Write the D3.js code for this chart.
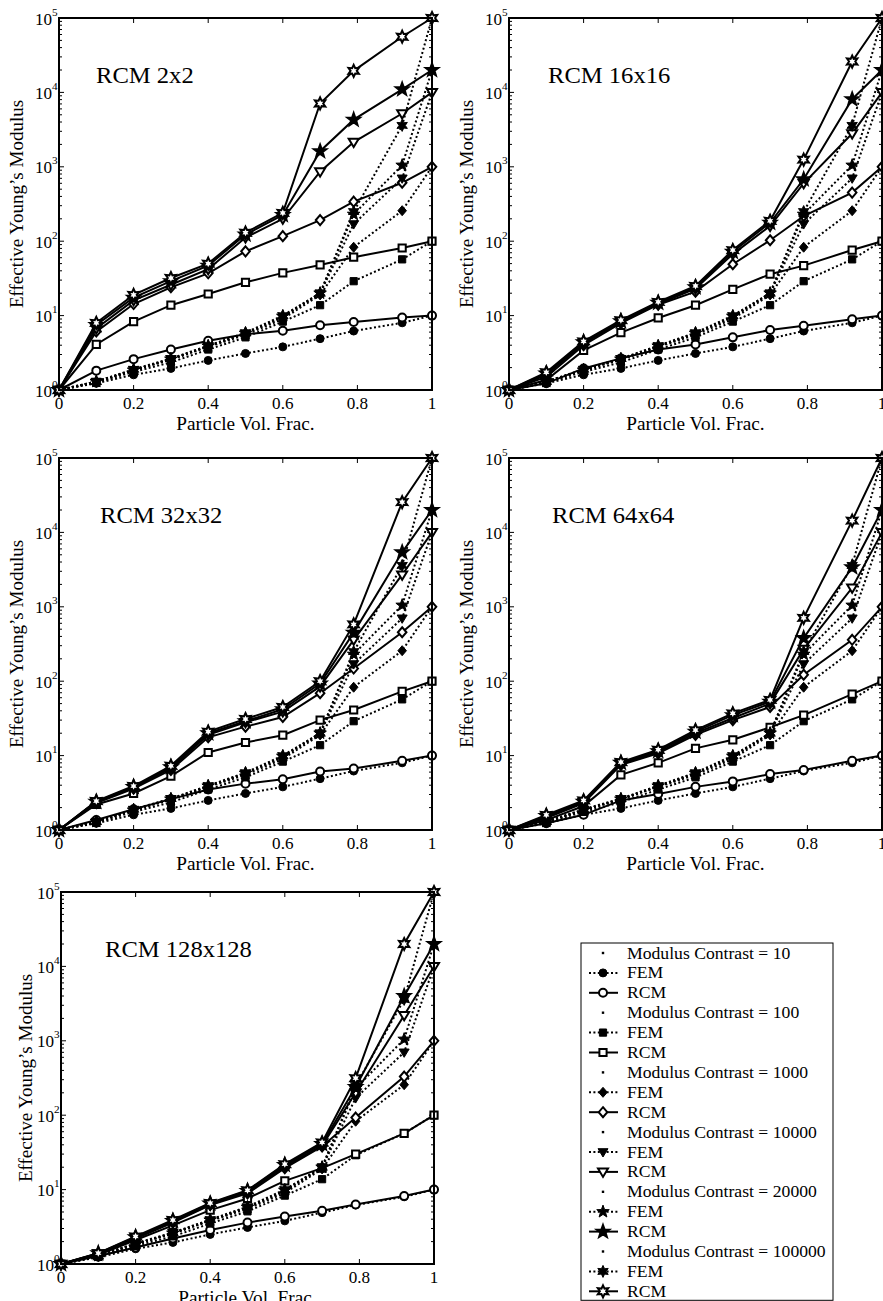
<!DOCTYPE html>
<html>
<head>
<meta charset="utf-8">
<script src="https://cdn.jsdelivr.net/npm/d3@7"></script>
<style>
  html, body { margin: 0; padding: 0; background: #fff; }
  svg { display: block; }
  text { font-family: "Liberation Serif", "Times New Roman", serif; fill: #000; }
</style>
</head>
<body>
<svg id="chart" width="883" height="1301"></svg>
<script>
// Particle volume fractions (x values shared by every curve)
const volFrac = [0, 0.1, 0.2, 0.3, 0.4, 0.5, 0.6, 0.7, 0.79, 0.92, 1];

// Modulus contrasts, one FEM and one RCM curve each
const contrasts = [10, 100, 1000, 10000, 20000, 100000];

// Axis ticks
const xTicks = [0, 0.2, 0.4, 0.6, 0.8, 1];
const yTickExps = [0, 1, 2, 3, 4, 5];

// FEM reference results (identical in all panels), ordered as contrasts
const femValues = [
  [1, 1.23, 1.6, 1.95, 2.5, 3.1, 3.8, 4.9, 6.2, 8.0, 10],
  [1, 1.26, 1.75, 2.35, 3.5, 5.1, 8.3, 13.8, 29, 57, 100],
  [1, 1.3, 1.85, 2.55, 3.8, 5.5, 9.0, 19, 83, 257, 1000],
  [1, 1.3, 1.85, 2.6, 3.85, 5.7, 9.5, 20, 170, 700, 10000],
  [1, 1.3, 1.85, 2.6, 3.9, 5.8, 9.8, 20, 230, 1050, 20000],
  [1, 1.3, 1.9, 2.65, 3.95, 5.9, 10, 20, 250, 3600, 100000]
];

// RCM results per grid size, ordered as contrasts
const rcm2x2 = [
  [1, 1.82, 2.6, 3.5, 4.6, 5.6, 6.25, 7.4, 8.2, 9.4, 10],
  [1, 4.1, 8.3, 13.8, 19.5, 28, 37.5, 48, 61, 81, 100],
  [1, 6.1, 14.3, 24, 37, 73, 117, 192, 340, 610, 1000],
  [1, 6.7, 16, 26, 42, 112, 200, 860, 2150, 5200, 10000],
  [1, 7.5, 17.4, 29, 47, 123, 225, 1620, 4300, 11000, 20000],
  [1, 8, 19, 32, 50, 130, 240, 7100, 19500, 56000, 100000]
];
const rcm16x16 = [
  [1, 1.23, 1.95, 2.66, 3.5, 4.1, 5.1, 6.4, 7.3, 8.9, 10],
  [1, 1.36, 3.4, 5.9, 9.3, 13.8, 22.5, 36, 47, 76, 100],
  [1, 1.5, 4.0, 7.9, 14, 21, 49, 103, 218, 450, 1000],
  [1, 1.6, 4.2, 8.3, 14.3, 23, 67, 160, 600, 2800, 10000],
  [1, 1.67, 4.4, 8.4, 14.9, 24, 72, 177, 680, 8100, 20000],
  [1, 1.73, 4.5, 8.7, 15.3, 25, 76, 188, 1250, 26000, 100000]
];
const rcm32x32 = [
  [1, 1.36, 1.9, 2.6, 3.5, 4.2, 4.8, 6.1, 6.7, 8.5, 10],
  [1, 2.2, 3.1, 5.3, 11, 15, 18.8, 30, 41, 73, 100],
  [1, 2.3, 3.6, 6.4, 17.6, 24.5, 33, 69, 148, 455, 1000],
  [1, 2.4, 3.7, 6.7, 19, 28, 39, 85, 360, 2700, 10000],
  [1, 2.4, 3.8, 7.0, 20, 29, 42, 93, 450, 5400, 20000],
  [1, 2.45, 3.9, 7.3, 21, 31, 45, 100, 580, 25500, 100000]
];
const rcm64x64 = [
  [1, 1.23, 1.6, 2.5, 3.05, 3.8, 4.5, 5.65, 6.4, 8.5, 10],
  [1, 1.36, 2.1, 5.5, 8, 12.5, 16.3, 24, 35, 67, 100],
  [1, 1.45, 2.3, 7.5, 10.7, 19, 30, 45, 122, 360, 1000],
  [1, 1.5, 2.35, 7.8, 11, 20, 32, 50, 270, 1800, 10000],
  [1, 1.55, 2.4, 8, 11.5, 21, 35, 53, 380, 3400, 20000],
  [1, 1.6, 2.5, 8.2, 12, 22, 37, 56, 710, 14400, 100000]
];
const rcm128x128 = [
  [1, 1.28, 1.67, 2.2, 2.86, 3.6, 4.35, 5.2, 6.3, 8.2, 10],
  [1, 1.32, 2.1, 3.3, 5.3, 7.6, 13.1, 19.4, 30, 57, 100],
  [1, 1.35, 2.2, 3.6, 6.2, 8.9, 19.4, 38, 93, 330, 1000],
  [1, 1.38, 2.25, 3.7, 6.3, 9.3, 20.5, 39, 200, 2200, 10000],
  [1, 1.4, 2.3, 3.8, 6.5, 9.6, 21.5, 41, 240, 4000, 20000],
  [1, 1.4, 2.35, 3.9, 6.6, 9.8, 22, 43, 315, 20000, 100000]
];

const panelTitles = ["RCM 2x2", "RCM 16x16", "RCM 32x32", "RCM 64x64", "RCM 128x128"];
const panelRcm = [rcm2x2, rcm16x16, rcm32x32, rcm64x64, rcm128x128];

// Panel frames: left/top/right/bottom of each plot area
const frames = [
  { l: 59,  t: 18,  r: 432, b: 390,  titleDx: 37, ylabDx: 43 },
  { l: 509, t: 18,  r: 882, b: 390,  titleDx: 39, ylabDx: 43 },
  { l: 59,  t: 458, r: 432, b: 830,  titleDx: 41, ylabDx: 43 },
  { l: 509, t: 458, r: 882, b: 830,  titleDx: 43, ylabDx: 43 },
  { l: 61,  t: 892, r: 434, b: 1264, titleDx: 44, ylabDx: 36 }
];

// Marker shapes per contrast; RCM uses open markers, FEM filled ones
const shapes = ["circle", "square", "diamond", "triangle", "pentagram", "hexagram"];
const rcmFill = ["#fff", "#fff", "#fff", "#fff", "#000", "#fff"];

// Text is set slightly wide
const SX = 1.07;
function addText(parent, x, y, str, size, anchor) {
  return parent.append("text")
    .attr("transform", `translate(${x},${y}) scale(${SX},1)`)
    .attr("text-anchor", anchor || "start")
    .attr("font-size", size)
    .text(str);
}

function starPath(n, R, r) {
  const pts = [];
  for (let i = 0; i < 2 * n; i++) {
    const a = -Math.PI / 2 + i * Math.PI / n;
    const rad = i % 2 === 0 ? R : r;
    pts.push([rad * Math.cos(a), rad * Math.sin(a)]);
  }
  return "M" + pts.map(p => p[0].toFixed(2) + "," + p[1].toFixed(2)).join("L") + "Z";
}
function markerPath(shape) {
  switch (shape) {
    case "circle": return "M4,0A4,4 0 1,1 -4,0A4,4 0 1,1 4,0Z";
    case "square": return "M-3.6,-3.6H3.6V3.6H-3.6Z";
    case "diamond": return "M0,-5L4.3,0L0,5L-4.3,0Z";
    case "triangle": return "M-5,-3.3L5,-3.3L0,5Z";
    case "pentagram": return starPath(5, 6.6, 2.7);
    case "hexagram": return starPath(6, 6.0, 3.1);
  }
}

const svg = d3.select("#chart");
const xScaleBase = d3.scaleLinear().domain([0, 1]);
const yScaleBase = d3.scaleLog().domain([1, 1e5]);

frames.forEach((f, pi) => {
  const x = xScaleBase.copy().range([f.l, f.r]);
  const y = yScaleBase.copy().range([f.b, f.t]);
  const g = svg.append("g");

  // tick marks, inward on all four sides
  const ticks = g.append("g").attr("stroke", "#000").attr("stroke-width", 1);
  xTicks.forEach(v => {
    ticks.append("line").attr("x1", x(v)).attr("x2", x(v)).attr("y1", f.b).attr("y2", f.b - 5);
    ticks.append("line").attr("x1", x(v)).attr("x2", x(v)).attr("y1", f.t).attr("y2", f.t + 5);
  });
  yTickExps.forEach(e => {
    const v = Math.pow(10, e);
    ticks.append("line").attr("x1", f.l).attr("x2", f.l + 5).attr("y1", y(v)).attr("y2", y(v));
    ticks.append("line").attr("x1", f.r).attr("x2", f.r - 5).attr("y1", y(v)).attr("y2", y(v));
    if (e < 5) {
      for (let m = 2; m <= 9; m++) {
        const yy = y(m * v);
        ticks.append("line").attr("x1", f.l).attr("x2", f.l + 3).attr("y1", yy).attr("y2", yy);
        ticks.append("line").attr("x1", f.r).attr("x2", f.r - 3).attr("y1", yy).attr("y2", yy);
      }
    }
  });

  // curves: FEM dotted, RCM solid, drawn pair by pair
  const line = d3.line().x((d, i) => x(volFrac[i])).y(d => y(d));
  contrasts.forEach((c, ci) => {
    const fem = femValues[ci];
    const rcm = panelRcm[pi][ci];
    g.append("path").attr("d", line(fem)).attr("fill", "none")
      .attr("stroke", "#000").attr("stroke-width", 2).attr("stroke-dasharray", "2,2.4");
    g.selectAll(null).data(fem).enter().append("path")
      .attr("d", markerPath(shapes[ci]))
      .attr("transform", (d, i) => `translate(${x(volFrac[i])},${y(d)})`)
      .attr("fill", "#000").attr("stroke", "#000").attr("stroke-width", 1);
    g.append("path").attr("d", line(rcm)).attr("fill", "none")
      .attr("stroke", "#000").attr("stroke-width", 2);
    g.selectAll(null).data(rcm).enter().append("path")
      .attr("d", markerPath(shapes[ci]))
      .attr("transform", (d, i) => `translate(${x(volFrac[i])},${y(d)})`)
      .attr("fill", rcmFill[ci]).attr("stroke", "#000").attr("stroke-width", 2);
  });

  // frame
  g.append("rect").attr("x", f.l).attr("y", f.t).attr("width", f.r - f.l).attr("height", f.b - f.t)
    .attr("fill", "none").attr("stroke", "#000").attr("stroke-width", 2);

  // tick labels
  xTicks.forEach(v => {
    addText(g, x(v), f.b + 19, d3.format("~g")(v), 16, "middle");
  });
  yTickExps.forEach(e => {
    const yy = y(Math.pow(10, e));
    const t = addText(g, f.l - 24, yy + 6.5, "", 16, "start");
    t.append("tspan").text("10");
    t.append("tspan").attr("font-size", 10.5).attr("dy", -9).text(e);
  });

  // axis labels and title
  addText(g, (f.l + f.r) / 2, f.b + 40, "Particle Vol. Frac.", 18, "middle");
  g.append("text")
    .attr("transform", `translate(${f.l - f.ylabDx},${(f.t + f.b) / 2}) rotate(-90)`)
    .attr("text-anchor", "middle").attr("dy", "0.35em").attr("font-size", 19)
    .text("Effective Young’s Modulus");
  addText(g, f.l + f.titleDx, f.t + 65, panelTitles[pi], 23, "start");
});

// Legend
const legend = svg.append("g");
const lgX = 581, lgTop = 943, rowH = 19.9, firstRow = 953;
const rows = [];
contrasts.forEach((c, ci) => {
  rows.push({ kind: "head", label: "Modulus Contrast = " + c, ci });
  rows.push({ kind: "fem", label: "FEM", ci });
  rows.push({ kind: "rcm", label: "RCM", ci });
});
const lgBottom = firstRow + (rows.length - 1) * rowH + 9;
legend.append("rect").attr("x", lgX).attr("y", lgTop).attr("width", 252).attr("height", lgBottom - lgTop)
  .attr("fill", "#fff").attr("stroke", "#000").attr("stroke-width", 1);
rows.forEach((r, i) => {
  const yy = firstRow + i * rowH;
  const cx = 603;
  if (r.kind === "head") {
    legend.append("rect").attr("x", cx - 1.2).attr("y", yy - 1.2).attr("width", 2.4).attr("height", 2.4).attr("fill", "#000");
  } else if (r.kind === "fem") {
    legend.append("line").attr("x1", 589).attr("x2", 618).attr("y1", yy).attr("y2", yy)
      .attr("stroke", "#000").attr("stroke-width", 2).attr("stroke-dasharray", "2,2.4");
    legend.append("path").attr("d", markerPath(shapes[r.ci])).attr("transform", `translate(${cx},${yy})`)
      .attr("fill", "#000").attr("stroke", "#000").attr("stroke-width", 1);
  } else {
    legend.append("line").attr("x1", 589).attr("x2", 618).attr("y1", yy).attr("y2", yy)
      .attr("stroke", "#000").attr("stroke-width", 2);
    legend.append("path").attr("d", markerPath(shapes[r.ci])).attr("transform", `translate(${cx},${yy})`)
      .attr("fill", rcmFill[r.ci]).attr("stroke", "#000").attr("stroke-width", 2);
  }
  addText(legend, 627, yy + 5.5, r.label, 16.5, "start");
});
</script>
</body>
</html>
